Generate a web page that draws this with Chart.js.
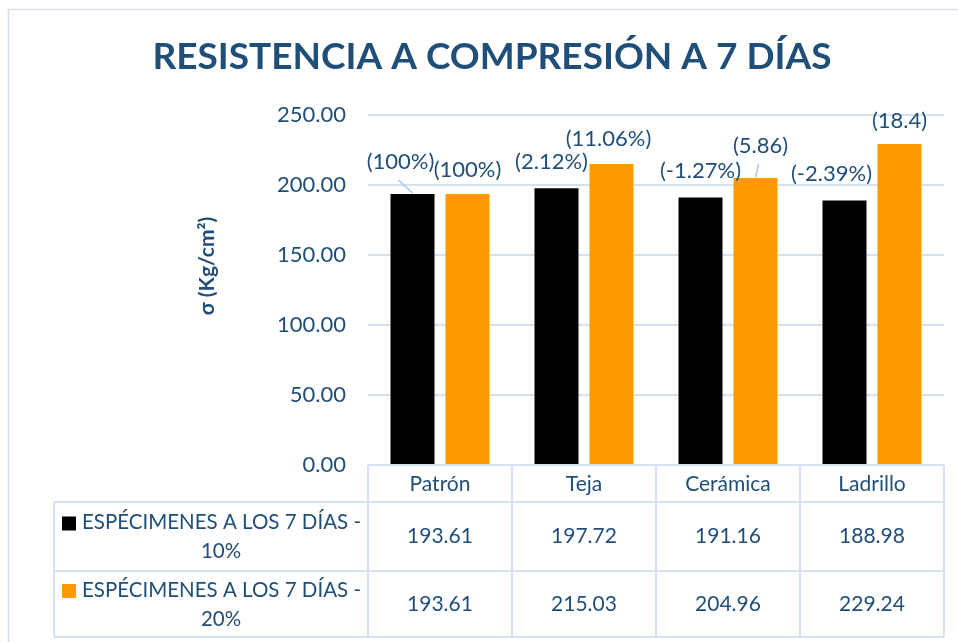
<!DOCTYPE html>
<html>
<head>
    <meta charset="UTF-8" />
    <title>Resistencia a compresión a 7 días</title>
    <script src="https://cdn.jsdelivr.net/npm/chart.js"></script>
    <style>
        html, body {
            margin: 0;
            padding: 0;
            background: #fff;
        }

        #wrap {
            position: relative;
            width: 958px;
            height: 642px;
        }
    </style>
</head>
<body>

<div id="wrap">
    <canvas id="chart"></canvas>
</div>

<script>
    // chart data
    const chartTitle = 'RESISTENCIA A COMPRESIÓN A 7 DÍAS';
    const yTitle = 'σ (Kg/cm²)';
    const categories = ['Patrón', 'Teja', 'Cerámica', 'Ladrillo'];
    const seriesNames = ['ESPÉCIMENES A LOS 7 DÍAS - 10%', 'ESPÉCIMENES A LOS 7 DÍAS - 20%'];
    const values10 = [193.61, 197.72, 191.16, 188.98];
    const values20 = [193.61, 215.03, 204.96, 229.24];
    const pctLabels10 = ['(100%)', '(2.12%)', '(-1.27%)', '(-2.39%)'];
    const pctLabels20 = ['(100%)', '(11.06%)', '(5.86)', '(18.4)'];
    const yTicks = [0, 50, 100, 150, 200, 250];

    const textBlue = '#1F4E79';
    const lineBlue = '#D5E1F1';
    const FONT = 'Lato, "Open Sans", sans-serif';

    // label nudges relative to the top of each bar (dx, dy) and leader lines
    const labelNudge = [
        [[-12, -32], [-5, -26], [0, -26], [-13, -27]],
        [[0, -24], [-3, -25], [5, -32], [0, -23]]
    ];
    const leaders = [[true, false, false, false], [false, false, true, false]];

    Chart.defaults.font.family = FONT;

    // frame, title, axis title, bar labels, data table
    const decorPlugin = {
        id: 'decor',
        beforeDraw(chart) {
            const ctx = chart.ctx;
            ctx.save();
            ctx.strokeStyle = '#D6DFEC';
            ctx.lineWidth = 1.5;
            ctx.strokeRect(8.5, 9.5, 1000, 1000);
            ctx.restore();
        },
        afterDatasetsDraw(chart) {
            const ctx = chart.ctx;
            const area = chart.chartArea;
            ctx.save();

            // title
            ctx.fillStyle = textBlue;
            ctx.textAlign = 'center';
            ctx.textBaseline = 'middle';
            ctx.font = 'bold 37px ' + FONT;
            ctx.fillText(chartTitle, 492, 57);

            // y axis title
            ctx.save();
            ctx.translate(207, 266);
            ctx.rotate(-Math.PI / 2);
            ctx.font = 'bold 21px ' + FONT;
            ctx.fillText(yTitle, 0, 0);
            ctx.restore();

            // data labels above bars
            const allLabels = [pctLabels10, pctLabels20];
            ctx.font = '22px ' + FONT;
            chart.data.datasets.forEach((ds, di) => {
                const meta = chart.getDatasetMeta(di);
                meta.data.forEach((bar, i) => {
                    const [dx, dy] = labelNudge[di][i];
                    const lx = bar.x + dx;
                    const ly = bar.y + dy;
                    if (leaders[di][i]) {
                        ctx.strokeStyle = '#A9C4E6';
                        ctx.lineWidth = 1.5;
                        ctx.beginPath();
                        ctx.moveTo(bar.x, bar.y - 1);
                        ctx.lineTo(lx - 2, ly + 18);
                        ctx.stroke();
                    }
                    ctx.fillStyle = textBlue;
                    ctx.fillText(allLabels[di][i], lx, ly);
                });
            });

            // data table
            const n = categories.length;
            const colW = (area.right - area.left) / n;
            const top = area.bottom;
            const rows = [top, top + 37, top + 106, top + 172];
            const keyLeft = 54;

            ctx.strokeStyle = lineBlue;
            ctx.lineWidth = 2;
            ctx.beginPath();
            // horizontal lines
            ctx.moveTo(area.left, rows[0]); ctx.lineTo(area.right, rows[0]);
            for (let r = 1; r < rows.length; r++) {
                ctx.moveTo(keyLeft, rows[r]); ctx.lineTo(area.right, rows[r]);
            }
            // vertical lines
            for (let c = 0; c <= n; c++) {
                const x = area.left + c * colW;
                ctx.moveTo(x, rows[0]); ctx.lineTo(x, rows[3]);
            }
            ctx.moveTo(keyLeft, rows[1]); ctx.lineTo(keyLeft, rows[3]);
            ctx.stroke();

            ctx.fillStyle = textBlue;
            ctx.font = '21px ' + FONT;
            categories.forEach((c, i) => {
                ctx.fillText(c, area.left + (i + 0.5) * colW, (rows[0] + rows[1]) / 2 + 1);
            });

            const allValues = [values10, values20];
            chart.data.datasets.forEach((ds, di) => {
                const y0 = rows[di + 1], y1 = rows[di + 2];
                const mid = (y0 + y1) / 2;
                allValues[di].forEach((v, i) => {
                    ctx.fillStyle = textBlue;
                    ctx.fillText(v.toFixed(2), area.left + (i + 0.5) * colW, mid);
                });
                // legend key + wrapped series name
                ctx.fillStyle = ds.backgroundColor;
                ctx.fillRect(62, mid - 20, 14, 14);
                const cut = seriesNames[di].lastIndexOf(' ');
                const line1 = seriesNames[di].slice(0, cut);
                const line2 = seriesNames[di].slice(cut + 1);
                ctx.fillStyle = textBlue;
                ctx.textAlign = 'left';
                ctx.font = '20.5px ' + FONT;
                ctx.fillText(line1, 82, mid - 14);
                ctx.textAlign = 'center';
                ctx.fillText(line2, 221, mid + 15);
                ctx.font = '21px ' + FONT;
            });

            ctx.restore();
        }
    };

    new Chart(document.getElementById('chart'), {
        type: 'bar',
        data: {
            labels: categories,
            datasets: [
                {
                    label: seriesNames[0],
                    data: values10,
                    backgroundColor: '#000000',
                    borderWidth: 0
                },
                {
                    label: seriesNames[1],
                    data: values20,
                    backgroundColor: '#FF9900',
                    borderWidth: 0
                }
            ]
        },
        options: {
            responsive: true,
            maintainAspectRatio: false,
            animation: false,
            layout: {
                padding: { top: 115, left: 8, right: 14, bottom: 177 }
            },
            datasets: {
                bar: {
                    barPercentage: 0.8,
                    categoryPercentage: 0.764
                }
            },
            scales: {
                x: {
                    display: false
                },
                y: {
                    min: yTicks[0],
                    max: yTicks[yTicks.length - 1],
                    afterBuildTicks: scale => {
                        scale.ticks = yTicks.map(v => ({ value: v }));
                    },
                    afterFit: scale => {
                        scale.width = 360;
                    },
                    border: { display: false },
                    grid: {
                        color: lineBlue,
                        lineWidth: 2,
                        drawTicks: false
                    },
                    ticks: {
                        padding: 22,
                        color: textBlue,
                        font: { size: 22 },
                        callback: v => v.toFixed(2)
                    }
                }
            },
            plugins: {
                legend: { display: false },
                title: { display: false },
                tooltip: { enabled: false }
            }
        },
        plugins: [decorPlugin]
    });
</script>

</body>
</html>
